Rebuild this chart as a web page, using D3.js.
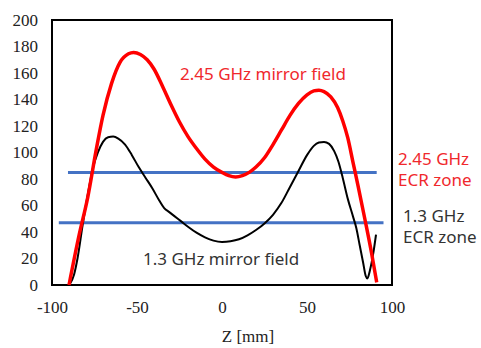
<!DOCTYPE html>
<html>
<head>
<meta charset="utf-8">
<script src="https://cdn.jsdelivr.net/npm/d3@7"></script>
<style>
html,body{margin:0;padding:0;background:#fff;}
svg{display:block;}
</style>
</head>
<body>
<svg id="chart" width="481" height="348"></svg>
<script>
// Data
const xTicks = [-100, -50, 0, 50, 100];
const yTicks = [0, 20, 40, 60, 80, 100, 120, 140, 160, 180, 200];

const field245 = [
  [-90, 0], [-84, 38], [-79, 66], [-74, 102], [-70, 128], [-65, 152], [-60, 168], [-55, 174.5],
  [-52, 175.5], [-48, 174], [-44, 170], [-40, 163], [-35, 150], [-30, 136], [-25, 123],
  [-20, 112], [-15, 103], [-10, 95], [-5, 89], [0, 85], [4, 82.5], [8, 81.5], [12, 82.5],
  [16, 85], [20, 89], [25, 96], [30, 106], [35, 117], [40, 128], [45, 137], [50, 143.5],
  [54, 146.5], [57, 147], [60, 146], [64, 142], [68, 134], [71, 124], [74, 111], [77, 93],
  [80, 75], [84, 50], [88, 24], [91, 2]
];

const field13 = [
  [-89.4, 1], [-87, 8], [-85, 20], [-82, 45], [-79, 68], [-76, 88], [-73, 100], [-70, 108],
  [-67, 111.5], [-64, 112], [-61, 110.5], [-57, 106], [-53, 98], [-49, 89], [-45, 81],
  [-41, 73], [-37, 64], [-34, 58], [-31, 55], [-28, 52], [-24, 48], [-20, 44], [-15, 39.5],
  [-10, 36], [-5, 33.5], [0, 32.5], [5, 33], [10, 34.5], [15, 37.5], [20, 41.5], [25, 46.5],
  [30, 53], [35, 62], [40, 74], [45, 86], [50, 98], [54, 105], [57, 107.5], [60, 108],
  [63, 106.5], [66, 101], [68.5, 93], [71, 81], [74, 65], [77, 52], [79, 43], [81, 30],
  [83, 17], [84.5, 7], [85.5, 5], [87, 11], [89, 24], [90.6, 38]
];

const ecr245 = { value: 85, from: -90.6, to: 91 };
const ecr13 = { value: 47, from: -96, to: 95 };

const svg = d3.select("#chart");
const mLeft = 52, mRight = 392, mTop = 20, mBottom = 285;

const x = d3.scaleLinear().domain([-100, 100]).range([mLeft, mRight]);
const y = d3.scaleLinear().domain([0, 200]).range([mBottom, mTop]);

const serif = '"Liberation Serif"';
const sans = '"Noto Sans"';

// axes (labels only)
const yAxis = svg.append("g").attr("transform", `translate(${mLeft},0)`)
  .call(d3.axisLeft(y).tickValues(yTicks).tickSize(0).tickPadding(14));
yAxis.select(".domain").remove();
yAxis.selectAll("text").style("font-family", serif).style("font-size", "17px").attr("fill", "#222");

const xAxis = svg.append("g").attr("transform", `translate(0,${mBottom})`)
  .call(d3.axisBottom(x).tickValues(xTicks).tickSize(0).tickPadding(16).tickFormat(d3.format("d")));
xAxis.select(".domain").remove();
xAxis.selectAll("text").style("font-family", serif).style("font-size", "17px").attr("fill", "#222")
  .text(d => d < 0 ? "-" + Math.abs(d) : d);

// frame
svg.append("rect")
  .attr("x", x(-100)).attr("y", y(200))
  .attr("width", x(100) - x(-100)).attr("height", y(0) - y(200))
  .attr("fill", "none").attr("stroke", "#000").attr("stroke-width", 2);

const line = d3.line().x(d => x(d[0])).y(d => y(d[1])).curve(d3.curveMonotoneX);

// ECR zone lines
[ecr245, ecr13].forEach(e => {
  svg.append("line")
    .attr("x1", x(e.from)).attr("x2", x(e.to))
    .attr("y1", y(e.value)).attr("y2", y(e.value))
    .attr("stroke", "#4472C4").attr("stroke-width", 3);
});

svg.append("path").datum(field13).attr("d", line)
  .attr("fill", "none").attr("stroke", "#000").attr("stroke-width", 2);
svg.append("path").datum(field245).attr("d", line)
  .attr("fill", "none").attr("stroke", "#FF0000").attr("stroke-width", 3.5);

// annotations
function label(tx, ty, txt, color) {
  svg.append("text").attr("x", tx).attr("y", ty)
    .style("font-family", sans).style("font-size", "17px")
    .attr("fill", color).text(txt);
}
label(180, 80, "2.45 GHz mirror field", "#F0282D");
label(143, 265, "1.3 GHz mirror field", "#333");
label(398, 165, "2.45 GHz", "#F0282D");
label(398, 186, "ECR zone", "#F0282D");
label(403, 222, "1.3 GHz", "#333");
label(403, 243, "ECR zone", "#333");

svg.append("text").attr("x", 248).attr("y", 342).attr("text-anchor", "middle")
  .style("font-family", serif).style("font-size", "17px").attr("fill", "#222").text("Z [mm]");
</script>
</body>
</html>
